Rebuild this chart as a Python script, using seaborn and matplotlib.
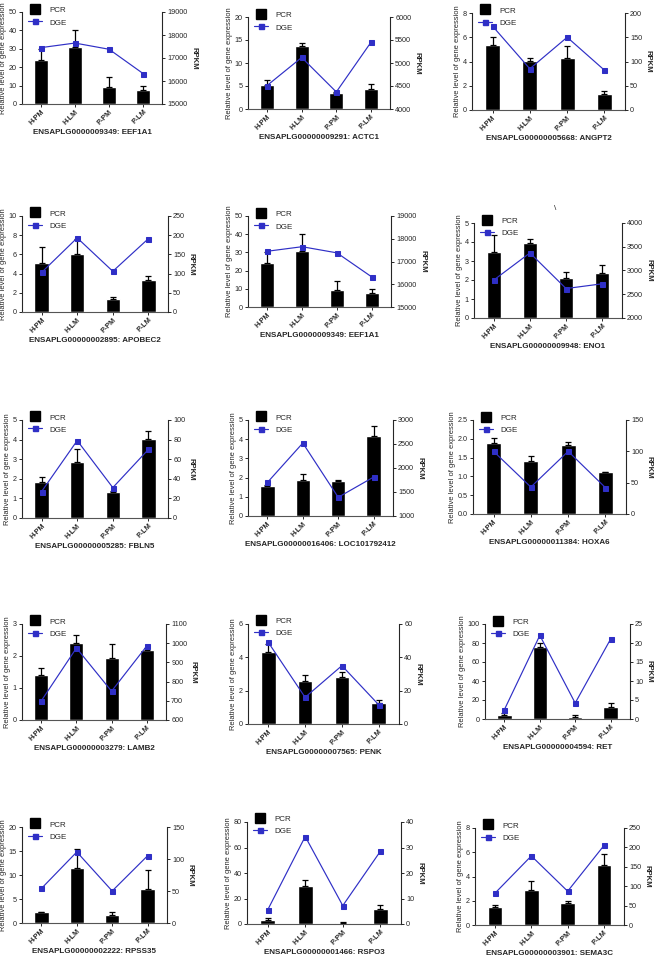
import matplotlib
matplotlib.use("Agg")
import matplotlib.pyplot as plt
import numpy as np
import seaborn as sns
from matplotlib.lines import Line2D

sns.set_style("ticks")
plt.rcParams["font.family"] = ["Liberation Sans", "DejaVu Sans"]

samples = ["H-PM", "H-LM", "P-PM", "P-LM"]

gene_ids = [
    "ENSAPLG0000009349", "ENSAPLG00000009291", "ENSAPLG00000005668",
    "ENSAPLG00000002895", "ENSAPLG0000009349", "ENSAPLG00000009948",
    "ENSAPLG00000005285", "ENSAPLG00000016406", "ENSAPLG00000011384",
    "ENSAPLG00000003279", "ENSAPLG00000007565", "ENSAPLG00000004594",
    "ENSAPLG00000002222", "ENSAPLG00000001466", "ENSAPLG00000003901",
]
gene_names = [
    "EEF1A1", "ACTC1", "ANGPT2",
    "APOBEC2", "EEF1A1", "ENO1",
    "FBLN5", "LOC101792412", "HOXA6",
    "LAMB2", "PENK", "RET",
    "RPSS35", "RSPO3", "SEMA3C",
]

# qPCR relative expression (bar height) and top of the error bar
pcr_mean = [
    [24, 31, 9.5, 7.5], [5.3, 13.8, 3.4, 4.4], [5.35, 4.05, 4.25, 1.35],
    [5.15, 6.05, 1.4, 3.3], [24, 31, 9.5, 7.5], [3.45, 3.97, 2.1, 2.35],
    [1.83, 2.85, 1.33, 4.05], [1.55, 1.88, 1.8, 4.18], [1.9, 1.42, 1.83, 1.12],
    [1.4, 2.4, 1.95, 2.2], [4.35, 2.58, 2.85, 1.25], [4.5, 76, 2, 12.5],
    [2.2, 11.5, 1.6, 7.1], [3.5, 30, 1, 11.5], [1.45, 2.9, 1.78, 4.95],
]
pcr_top = [
    [30, 40, 14.5, 9.8], [6.3, 14.3, 3.8, 5.5], [6.0, 4.25, 5.25, 1.6],
    [6.8, 7.6, 1.6, 3.75], [30, 40, 14.5, 9.8], [4.35, 4.15, 2.42, 2.8],
    [2.08, 3.52, 1.4, 4.42], [1.62, 2.18, 1.85, 4.7], [2.02, 1.53, 1.92, 1.13],
    [1.63, 2.65, 2.38, 2.26], [4.8, 2.92, 3.15, 1.42], [6.5, 80, 4, 17],
    [2.35, 15.5, 2.3, 11], [4.5, 34.5, 1.5, 15], [1.65, 3.65, 1.97, 5.85],
]

# RNA-seq (DGE) RPKM values on the right axis
dge_rpkm = [
    [17450, 17650, 17380, 16320], [4510, 5120, 4370, 5450], [173, 85, 150, 82],
    [103, 193, 106, 191], [17450, 17650, 17380, 16320], [2800, 3370, 2620, 2720],
    [27, 79, 31, 70], [1700, 2520, 1390, 1810], [100, 43, 100, 42],
    [700, 975, 750, 985], [49, 16, 35, 11.5], [2.5, 22, 4.2, 21],
    [54, 111, 50, 105], [5.5, 34.3, 7.2, 28.5], [82, 178, 87, 205],
]

left_ticks = [
    [0, 10, 20, 30, 40, 50], [0, 5, 10, 15, 20], [0, 2, 4, 6, 8],
    [0, 2, 4, 6, 8, 10], [0, 10, 20, 30, 40, 50], [0, 1, 2, 3, 4, 5],
    [0, 1, 2, 3, 4, 5], [0, 1, 2, 3, 4, 5], [0.0, 0.5, 1.0, 1.5, 2.0, 2.5],
    [0, 1, 2, 3], [0, 2, 4, 6], [0, 20, 40, 60, 80, 100],
    [0, 5, 10, 15, 20], [0, 20, 40, 60, 80], [0, 2, 4, 6, 8],
]
right_ticks = [
    [15000, 16000, 17000, 18000, 19000], [4000, 4500, 5000, 5500, 6000], [0, 50, 100, 150, 200],
    [0, 50, 100, 150, 200, 250], [15000, 16000, 17000, 18000, 19000], [2000, 2500, 3000, 3500, 4000],
    [0, 20, 40, 60, 80, 100], [1000, 1500, 2000, 2500, 3000], [0, 50, 100, 150],
    [600, 700, 800, 900, 1000, 1100], [0, 20, 40, 60], [0, 5, 10, 15, 20, 25],
    [0, 50, 100, 150], [0, 10, 20, 30, 40], [0, 50, 100, 150, 200, 250],
]

# panel boxes in pixels: left, top, right, bottom
boxes = [
    (22, 12, 162, 104), (248, 17, 390, 109), (472, 13, 625, 110),
    (22, 216, 168, 312), (248, 216, 391, 307), (474, 223, 622, 318),
    (22, 420, 168, 518), (248, 420, 393, 516), (473, 420, 626, 514),
    (22, 624, 166, 720), (248, 624, 399, 724), (485, 624, 630, 719),
    (22, 827, 167, 923), (247, 822, 401, 924), (475, 828, 624, 925),
]

W, H = 656, 959
BLUE = "#2f2fc6"

fig = plt.figure(figsize=(W / 100, H / 100), dpi=100)


def draw_panel(i):
    l, t, r, b = boxes[i]
    ax = fig.add_axes([l / W, 1 - b / H, (r - l) / W, (b - t) / H])
    means = np.array(pcr_mean[i])
    tops = np.array(pcr_top[i])
    xs = np.arange(len(samples))

    sns.barplot(x=samples, y=means, color="black", saturation=1, width=0.4, ax=ax)
    ax.errorbar(xs, means, yerr=[np.zeros(len(xs)), tops - means], fmt="none",
                ecolor="black", elinewidth=0.9, capsize=2.2, capthick=0.9)

    ax2 = ax.twinx()
    sns.lineplot(x=xs, y=dge_rpkm[i], ax=ax2, color=BLUE, marker="s",
                 markersize=3.6, markeredgecolor=BLUE, linewidth=0.85)

    ax.set_xlim(-0.55, 3.55)
    lt = left_ticks[i]
    ax.set_ylim(lt[0], lt[-1])
    ax.set_yticks(lt)
    if i == 8:
        ax.set_yticklabels([f"{v:.1f}" for v in lt])
    rt = right_ticks[i]
    ax2.set_ylim(rt[0], rt[-1])
    ax2.set_yticks(rt)

    for a in (ax, ax2):
        a.tick_params(axis="both", labelsize=5.2, length=2.5, width=0.7, pad=1.2)
    ax.tick_params(axis="x", labelsize=5.2, length=2, pad=1)
    ax.set_xticks(xs)
    ax.set_xticklabels(samples, rotation=45, ha="right", rotation_mode="anchor",
                       fontweight="bold")

    ax.spines["top"].set_visible(False)
    ax.spines["right"].set_visible(False)
    ax.spines["left"].set_linewidth(0.8)
    ax.spines["bottom"].set_linewidth(0.8)
    ax.spines["bottom"].set_color("#555555")
    ax2.spines["top"].set_visible(False)
    ax2.spines["left"].set_visible(False)
    ax2.spines["bottom"].set_visible(False)
    ax2.spines["right"].set_linewidth(0.8)

    ax.set_ylabel("Relative level of gene expression", fontsize=5.4, labelpad=1.5)
    ax2.set_ylabel("RPKM", fontsize=5.6, fontweight="bold", rotation=270,
                   labelpad=7)
    ax.set_xlabel(f"{gene_ids[i]}: {gene_names[i]}", fontsize=5.8,
                  fontweight="bold", labelpad=2)

    handles = [
        Line2D([0], [0], color="black", marker="s", markersize=6.5,
               linestyle="none", label="PCR"),
        Line2D([0], [0], color=BLUE, marker="s", markersize=3.6, linewidth=0.85,
               label="DGE"),
    ]
    ax2.legend(handles=handles, loc="upper left", bbox_to_anchor=(0.0, 1.13),
               frameon=False, fontsize=5.8, handlelength=1.8, handleheight=1.1,
               labelspacing=0.45, borderpad=0.2, handletextpad=0.9)


for i in range(len(gene_names)):
    draw_panel(i)

fig.text(555 / W, 1 - 208 / H, "\\", fontsize=6, ha="center", va="center")

fig.savefig("out.png", dpi=100)
